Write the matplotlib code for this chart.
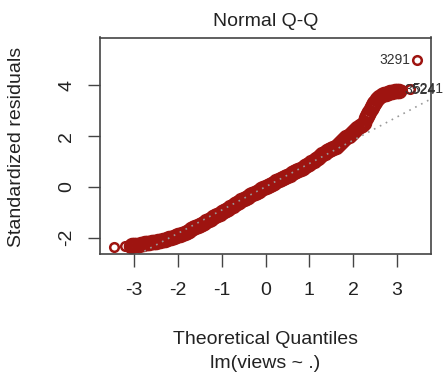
import matplotlib
matplotlib.use('Agg')
import matplotlib.pyplot as plt

plt.rcParams['font.family'] = ['Liberation Sans', 'DejaVu Sans']
plt.rcParams['axes.unicode_minus'] = False

# sorted standardized residuals against theoretical normal quantiles
theo_q = [-3.46, -3.20, -3.08, -3.04,
          -3.00, -2.95, -2.90, -2.85, -2.80, -2.75, -2.70, -2.65, -2.60, -2.55,
          -2.50, -2.45, -2.40, -2.35, -2.30, -2.25, -2.20, -2.15, -2.10, -2.05,
          -2.00, -1.95, -1.90, -1.85, -1.80, -1.75, -1.70, -1.65, -1.60, -1.55,
          -1.50, -1.45, -1.40, -1.35, -1.30, -1.25, -1.20, -1.15, -1.10, -1.05,
          -1.00, -0.95, -0.90, -0.85, -0.80, -0.75, -0.70, -0.65, -0.60, -0.55,
          -0.50, -0.45, -0.40, -0.35, -0.30, -0.25, -0.20, -0.15, -0.10, -0.05,
          0.00, 0.05, 0.10, 0.15, 0.20, 0.25, 0.30, 0.35, 0.40, 0.45,
          0.50, 0.55, 0.60, 0.65, 0.70, 0.75, 0.80, 0.85, 0.90, 0.95,
          1.00, 1.05, 1.10, 1.15, 1.20, 1.25, 1.30, 1.35, 1.40, 1.45,
          1.50, 1.55, 1.60, 1.65, 1.70, 1.75, 1.80, 1.85, 1.90, 1.95,
          2.00, 2.05, 2.10, 2.15, 2.20, 2.25, 2.30, 2.325, 2.35, 2.375,
          2.40, 2.425, 2.45, 2.475, 2.50, 2.55, 2.60, 2.65, 2.70, 2.75,
          2.80, 2.85, 2.90, 2.95, 3.00, 3.05, 3.12, 3.29, 3.46]
std_resid = [-2.37, -2.33, -2.31, -2.30,
             -2.29, -2.28, -2.27, -2.255, -2.24, -2.225, -2.21, -2.195, -2.18, -2.165,
             -2.15, -2.13, -2.11, -2.09, -2.07, -2.045, -2.02, -1.995, -1.97, -1.94,
             -1.91, -1.875, -1.84, -1.80, -1.76, -1.715, -1.67, -1.625, -1.58, -1.535,
             -1.49, -1.445, -1.40, -1.35, -1.30, -1.25, -1.20, -1.15, -1.10, -1.05,
             -1.00, -0.95, -0.90, -0.85, -0.80, -0.745, -0.69, -0.635, -0.58, -0.53,
             -0.48, -0.43, -0.38, -0.335, -0.29, -0.24, -0.19, -0.145, -0.10, -0.055,
             -0.01, 0.035, 0.08, 0.125, 0.17, 0.215, 0.26, 0.305, 0.35, 0.395,
             0.44, 0.485, 0.53, 0.575, 0.62, 0.67, 0.72, 0.765, 0.81, 0.86,
             0.91, 0.965, 1.02, 1.08, 1.14, 1.21, 1.28, 1.35, 1.40, 1.44,
             1.48, 1.52, 1.58, 1.64, 1.72, 1.80, 1.88, 1.95, 2.02, 2.09,
             2.16, 2.24, 2.32, 2.38, 2.42, 2.52, 2.70, 2.78, 2.87, 2.96,
             3.05, 3.14, 3.22, 3.30, 3.36, 3.46, 3.54, 3.60, 3.64, 3.67,
             3.70, 3.72, 3.74, 3.76, 3.78, 3.79, 3.83, 3.87, 5.00]

# observations flagged with their row names
flag_idx = [len(theo_q) - 1, len(theo_q) - 3, len(theo_q) - 2]
flag_names = ['3291', '3524', '5241']

# reference line through the quartiles
qq_intercept = 0.005
qq_slope = 0.915

fig = plt.figure(figsize=(4.43, 3.76), dpi=100)
ax = fig.add_axes([100/443, 1-254.3/376, 331/443, 216.8/376])

red = '#9e1410'
# crowded body of the curve, then the lone points at both ends
body = list(range(2, len(theo_q) - 3))
lone = [0, 1] + flag_idx
ax.plot([theo_q[i] for i in body], [std_resid[i] for i in body], 'o',
        mfc='none', mec=red, ms=8.6, mew=2.6)
ax.plot([theo_q[i] for i in lone], [std_resid[i] for i in lone], 'o',
        mfc='none', mec=red, ms=6.2, mew=1.8)
ax.axline((0, qq_intercept), slope=qq_slope, color='#999999', lw=1.2,
          ls=(0, (1, 3)))

for i, name in zip(flag_idx, flag_names):
    x, y = theo_q[i], std_resid[i]
    right = x > 3.4
    ax.annotate(name, (x, y), xytext=(-5 if right else 2, 0),
                textcoords='offset points', ha='right' if right else 'left',
                va='center', fontsize=10, color='#333333', zorder=5,
                annotation_clip=False)

ax.set_xlim(-3.78, 3.78)
ax.set_ylim(-2.65, 5.88)
ax.set_xticks([-3, -2, -1, 0, 1, 2, 3])
ax.set_yticks([-2, 0, 2, 4])
ax.tick_params(length=9, width=1, color='#444444', labelsize=14,
               labelcolor='#222222')
ax.tick_params(axis='x', pad=11)
ax.tick_params(axis='y', pad=9)
for lab in ax.get_yticklabels():
    lab.set_rotation(90)
    lab.set_va('center')
for s in ax.spines.values():
    s.set_color('#444444')
    s.set_linewidth(1.2)

fig.text(266/443, 1-21.7/376, 'Normal Q-Q', ha='center', va='center',
         fontsize=14, color='#222222')
fig.text(265.5/443, 1-340/376, 'Theoretical Quantiles', ha='center',
         va='center', fontsize=14, color='#222222')
fig.text(265.5/443, 1-363/376, 'lm(views ~ .)', ha='center', va='center',
         fontsize=14, color='#222222')
fig.text(16.7/443, 1-147/376, 'Standardized residuals', ha='center',
         va='center', rotation=90, fontsize=14, color='#222222')

fig.savefig('out.png', dpi=100)
